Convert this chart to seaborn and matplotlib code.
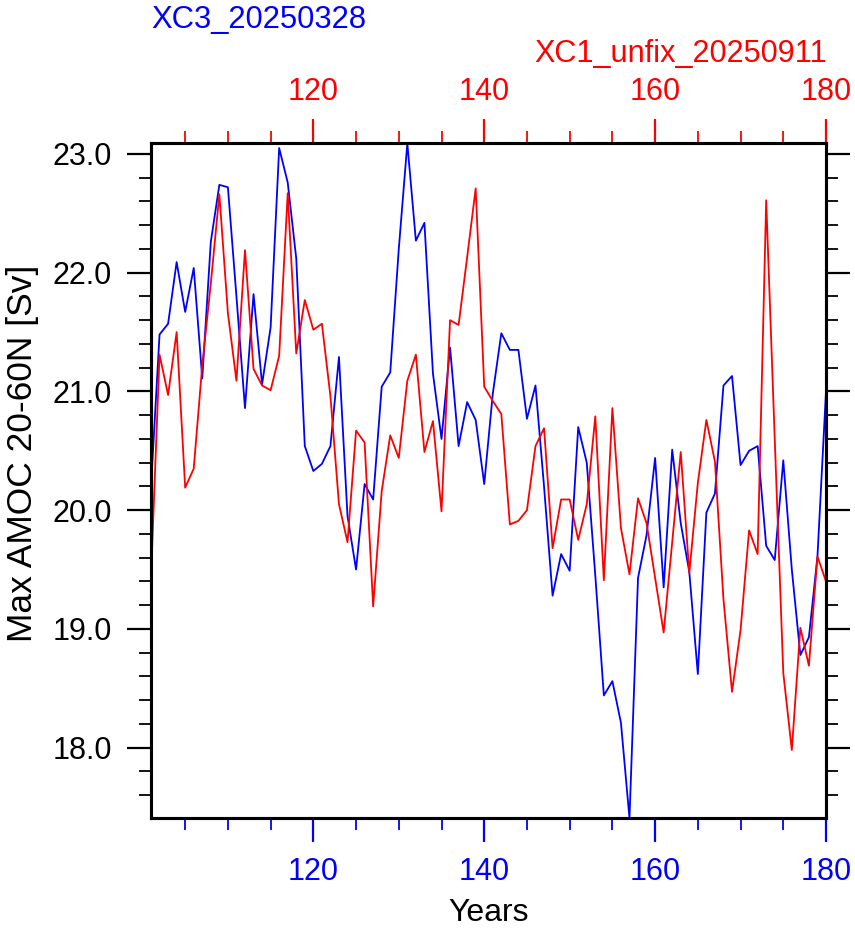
import matplotlib.pyplot as plt
import seaborn as sns
from matplotlib.ticker import MultipleLocator, FormatStrFormatter

# model years
years = list(range(101, 181))

# max AMOC 20-60N [Sv]
xc3 = [20.20, 21.48, 21.57, 22.09, 21.67, 22.04, 21.11, 22.26, 22.74, 22.72,
       21.80, 20.86, 21.82, 21.06, 21.54, 23.05, 22.76, 22.12, 20.54, 20.33,
       20.39, 20.54, 21.29, 19.95, 19.50, 20.22, 20.09, 21.04, 21.16, 22.20,
       23.09, 22.27, 22.42, 21.15, 20.60, 21.37, 20.54, 20.91, 20.76, 20.22,
       20.98, 21.49, 21.35, 21.35, 20.77, 21.05, 20.20, 19.28, 19.63, 19.49,
       20.70, 20.40, 19.45, 18.44, 18.56, 18.21, 17.405, 19.43, 19.79, 20.44,
       19.35, 20.51, 19.89, 19.48, 18.62, 19.98, 20.14, 21.05, 21.13, 20.38,
       20.50, 20.54, 19.70, 19.58, 20.42, 19.50, 18.78, 18.93, 19.61, 21.00]

xc1 = [19.44, 21.31, 20.97, 21.50, 20.19, 20.35, 21.22, 21.91, 22.66, 21.66,
       21.09, 22.19, 21.19, 21.05, 21.01, 21.30, 22.67, 21.32, 21.77, 21.52,
       21.57, 20.96, 20.05, 19.73, 20.67, 20.57, 19.19, 20.16, 20.63, 20.44,
       21.09, 21.31, 20.49, 20.75, 19.99, 21.60, 21.56, 22.13, 22.71, 21.04,
       20.92, 20.81, 19.88, 19.91, 20.00, 20.54, 20.69, 19.68, 20.09, 20.09,
       19.75, 20.05, 20.79, 19.41, 20.86, 19.85, 19.46, 20.10, 19.89, 19.43,
       18.97, 19.73, 20.49, 19.47, 20.23, 20.76, 20.41, 19.25, 18.47, 18.99,
       19.83, 19.63, 22.61, 20.60, 18.63, 17.98, 19.01, 18.69, 19.61, 19.40]

sns.set_style("ticks")
plt.rcParams['font.family'] = ['Liberation Sans', 'DejaVu Sans']

fig = plt.figure(figsize=(8.55, 9.31), dpi=100)
ax = fig.add_axes([151/855, 1 - 818.3/931, 675/855, 675/931])
ax_top = ax.twiny()

sns.lineplot(x=years, y=xc3, ax=ax, color='blue', linewidth=1.3)
sns.lineplot(x=years, y=xc1, ax=ax_top, color='red', linewidth=1.3)

ax.set_xlim(101, 180)
ax_top.set_xlim(101, 180)
ax.set_ylim(17.405, 23.09)

for a in (ax, ax_top):
    for sp in a.spines.values():
        sp.set_linewidth(2.2)
        sp.set_color('black')
    a.xaxis.set_major_locator(MultipleLocator(20))
    a.xaxis.set_minor_locator(MultipleLocator(5))

ax.yaxis.set_major_locator(MultipleLocator(1))
ax.yaxis.set_minor_locator(MultipleLocator(0.2))
ax.yaxis.set_major_formatter(FormatStrFormatter('%.1f'))

# bottom axis (blue run)
ax.tick_params(axis='x', which='both', bottom=True, top=False, colors='blue',
               direction='out', labelsize=22, pad=11)
ax.tick_params(axis='x', which='major', length=17, width=1.6)
ax.tick_params(axis='x', which='minor', length=8.5, width=1.3)

# left / right axis
ax.tick_params(axis='y', which='both', left=True, right=True, direction='out',
               colors='black', labelsize=22, pad=11)
ax.tick_params(axis='y', which='major', length=17, width=1.6)
ax.tick_params(axis='y', which='minor', length=8.5, width=1.3)

# top axis (red run)
ax_top.tick_params(axis='x', which='both', top=True, bottom=False, labeltop=True,
                   labelbottom=False, colors='red', direction='out',
                   labelsize=22, pad=9)
ax_top.tick_params(axis='x', which='major', length=17, width=1.6)
ax_top.tick_params(axis='x', which='minor', length=8.5, width=1.3)

ax.set_xlabel('Years', fontsize=23, labelpad=8, color='black')
ax.set_ylabel('Max AMOC 20-60N [Sv]', fontsize=25.5, color='black')
ax.yaxis.set_label_coords(-0.166, 0.54)
ax_top.set_xlabel('')

fig.text(151/855, 1 - 28/931, 'XC3_20250328', color='blue', fontsize=22.3,
         ha='left', va='baseline')
fig.text(827/855, 1 - 62/931, 'XC1_unfix_20250911', color='red', fontsize=22.1,
         ha='right', va='baseline')

fig.savefig('out.png', dpi=100)
